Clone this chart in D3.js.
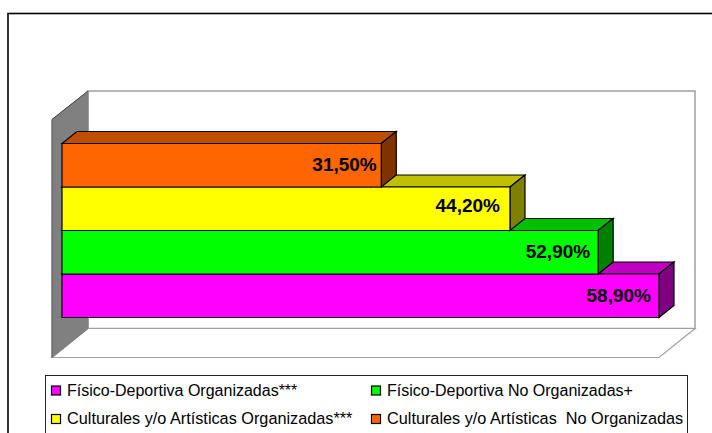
<!DOCTYPE html>
<html><head><meta charset="utf-8">
<script src="https://cdn.jsdelivr.net/npm/d3@7"></script>
<style>html,body{margin:0;padding:0;background:#fff;overflow:hidden}svg{display:block}text{font-family:"Liberation Sans",Arial,sans-serif}</style>
</head><body><svg id="c" width="712" height="433"></svg>
<script>
const categories = ["Físico-Deportiva Organizadas***","Físico-Deportiva No Organizadas+","Culturales y/o Artísticas Organizadas***","Culturales y/o Artísticas  No Organizadas"];
const values = [58.9,52.9,44.2,31.5];
const labels = ["58,90%","52,90%","44,20%","31,50%"];
const frontColors = ["#ff00ff","#00ff00","#ffff00","#ff6600"];
const topColors = ["#c000c0","#00c000","#c0c000","#c04d00"];
const sideColors = ["#800080","#008000","#808000","#803300"];
// hand-placed data labels in the original: small shifts from the default spot
const labelShiftX = [0,0,-2,3.5];
const labelShiftY = [0,0,-3,0];

const svg = d3.select("#c");
const dx = 15, dy = -12;
const x = d3.scaleLinear().domain([0,58.9]).range([62,659]);
const y = d3.scaleBand().domain([3,2,1,0]).range([143.5,317.5]);
const poly = (pts,fill,stroke,sw)=>svg.append("polygon").attr("points",pts.map(p=>p.join(",")).join(" "))
  .attr("fill",fill).attr("stroke",stroke).attr("stroke-width",sw).attr("stroke-linejoin","miter");

// outer frame: runs past the right and bottom edges of the picture
svg.append("rect").attr("x",8).attr("y",13.5).attr("width",760).attr("height",460).attr("fill","#fff").attr("stroke","#000").attr("stroke-width",1.6);

// walls
const gray="#808080", edge="#a0a0a0";
poly([[88,91],[695,91],[695,328.5],[88,328.5]],"#fff",edge,1.5);
poly([[88,328.5],[695,328.5],[659,357.5],[52,357.5]],"#fff",edge,1.2);
poly([[52,119.5],[88,91],[88,328.5],[52,357.5]],gray,gray,1);
svg.append("line").attr("x1",52).attr("y1",119.5).attr("x2",88).attr("y2",91).attr("stroke","#333").attr("stroke-width",.8);
svg.append("line").attr("x1",52).attr("y1",119.5).attr("x2",52).attr("y2",357.5).attr("stroke","#555").attr("stroke-width",.8);

// bars: lowest first, so each upper bar's front covers the top face of the one below
[0,1,2,3].forEach(i=>{
  const x0=x(0), x1=x(values[i]), t=y(i), b=t+y.bandwidth();
  poly([[x0,t],[x0+dx,t+dy],[x1+dx,t+dy],[x1,t]],topColors[i],"#000",1.2);
  poly([[x1,t],[x1+dx,t+dy],[x1+dx,b+dy],[x1,b]],sideColors[i],"#000",1.2);
  poly([[x0,t],[x1,t],[x1,b],[x0,b]],frontColors[i],"#000",1.2);
});
[3,2,1,0].forEach(i=>{
  svg.append("text").attr("x",x(values[i])-8+labelShiftX[i]).attr("y",y(i)+y.bandwidth()/2+6+labelShiftY[i])
    .attr("text-anchor","end").attr("font-size",19).attr("font-weight","bold").attr("fill","#000").text(labels[i]);
});

// legend
svg.append("rect").attr("x",45.5).attr("y",375.5).attr("width",642).attr("height",70).attr("fill","#fff").attr("stroke","#222");
const lx=[51,371], ly=[390.5,419], lfs=[16,16.25];
categories.forEach((c,i)=>{
  const col=i%2,row=i>>1;
  svg.append("rect").attr("x",lx[col]+.5).attr("y",ly[row]-4.5).attr("width",9).attr("height",9).attr("fill",frontColors[i]).attr("stroke","#000").attr("stroke-width",1.2);
  svg.append("text").attr("x",lx[col]+16).attr("y",ly[row]+5).attr("font-size",lfs[row]).attr("fill","#000").style("white-space","pre").text(c);
});
</script></body></html>
